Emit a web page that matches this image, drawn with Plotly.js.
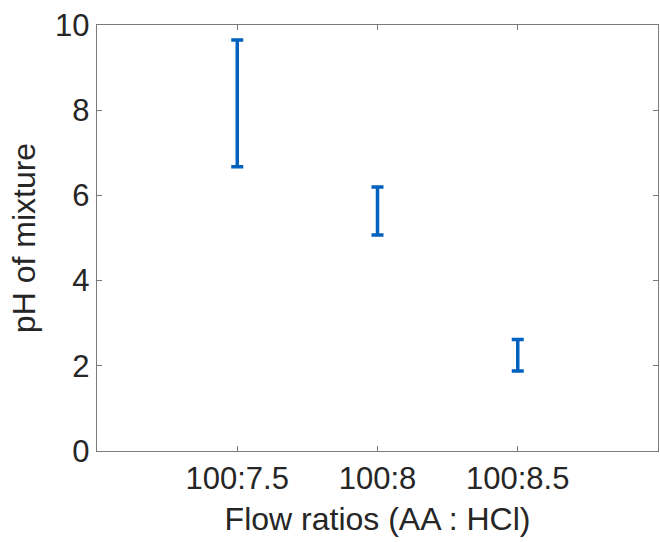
<!DOCTYPE html>
<html>
<head>
<meta charset="utf-8">
<script src="https://cdn.plot.ly/plotly-3.0.1.min.js"></script>
<style>html,body{margin:0;padding:0;background:#fff;}#chart{width:660px;height:542px;}</style>
</head>
<body>
<div id="chart"></div>
<script>
const flowRatios = ["100:7.5", "100:8", "100:8.5"];
const pHMean = [8.16, 5.635, 2.25];
const pHErr = [1.49, 0.565, 0.37];
const yTicks = [0, 2, 4, 6, 8, 10];

const axisColor = "#7a7a7a";
const fam = "Liberation Sans, Arial, Helvetica, sans-serif";
const tickFont = {family: fam, size: 31, color: "#262626"};
const titleFont = {family: fam, size: 32, color: "#262626"};

const trace = {
  type: "scatter",
  mode: "markers",
  x: flowRatios,
  y: pHMean,
  marker: {size: 1, opacity: 0, color: "#0062BE"},
  error_y: {type: "data", array: pHErr, visible: true, color: "#0062BE", thickness: 3.5, width: 6},
  showlegend: false,
  hoverinfo: "skip"
};

const layout = {
  width: 660, height: 542,
  margin: {l: 97, r: 2, t: 25, b: 91},
  paper_bgcolor: "#fff", plot_bgcolor: "#fff",
  font: tickFont,
  xaxis: {
    type: "category",
    categoryorder: "array", categoryarray: flowRatios,
    range: [-1, 3],
    showline: true, linecolor: axisColor, linewidth: 1.2, mirror: "ticks",
    ticks: "inside", ticklen: 5, tickcolor: axisColor, tickwidth: 1,
    showgrid: false, zeroline: false,
    tickfont: tickFont,
    title: {text: "Flow ratios (AA : HCl)", font: titleFont, standoff: 12}
  },
  yaxis: {
    range: [0, 10],
    tickvals: yTicks, ticktext: yTicks.map(String),
    showline: true, linecolor: axisColor, linewidth: 1.2, mirror: "ticks",
    ticks: "inside", ticklen: 5, tickcolor: axisColor, tickwidth: 1,
    showgrid: false, zeroline: false,
    tickfont: tickFont,
    title: {text: "pH of mixture", font: titleFont, standoff: 10}
  }
};

Plotly.newPlot("chart", [trace], layout, {displayModeBar: false, staticPlot: true});
</script>
</body>
</html>
